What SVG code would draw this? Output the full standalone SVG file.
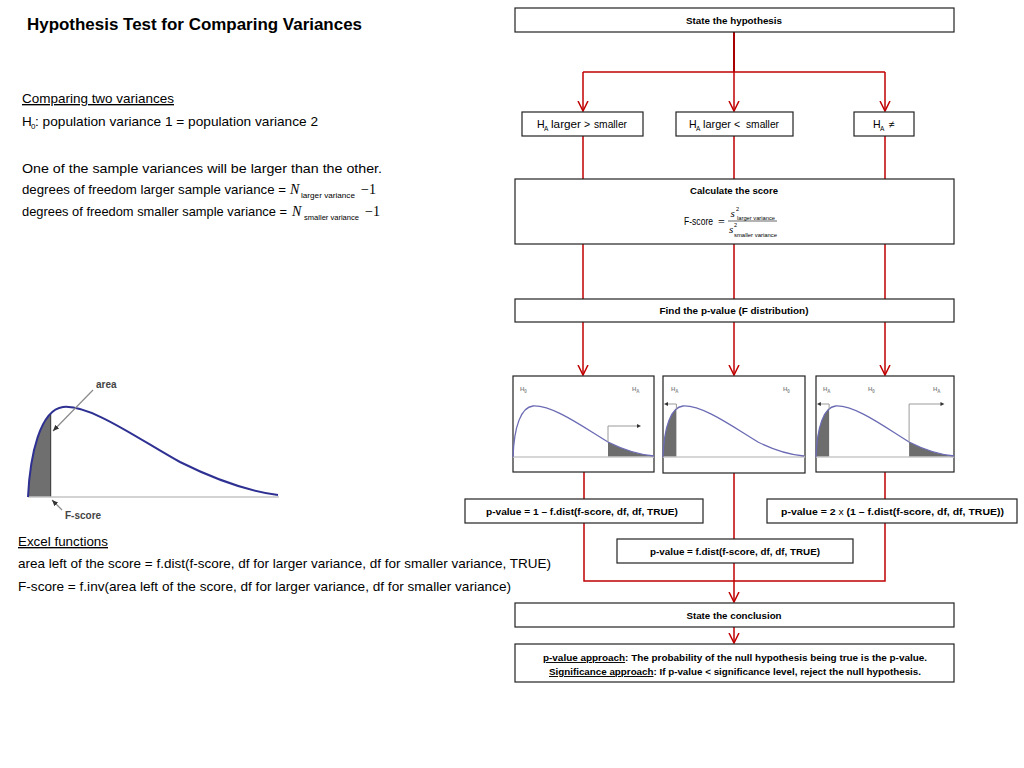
<svg xmlns="http://www.w3.org/2000/svg" xmlns:xlink="http://www.w3.org/1999/xlink" width="1024" height="768" viewBox="0 0 1024 768">
<style>
.bg{fill:#fff}
.box{fill:#fff;stroke:#222;stroke-width:1.2}
.conn{fill:none;stroke:#c00000;stroke-width:1.5}
.stem{fill:none;stroke:#a80000;stroke-width:2}
.b9{font-family:"Liberation Sans",Arial,sans-serif;font-weight:bold;font-size:9.5px;fill:#000}
.r11{font-family:"Liberation Sans",Arial,sans-serif;font-size:10.5px;fill:#000}
.t13{font-family:"Liberation Sans",Arial,sans-serif;font-size:13.5px;fill:#000}
.sub{font-family:"Liberation Sans",Arial,sans-serif;fill:#000}
.math{font-family:"Liberation Serif","Times New Roman",serif;fill:#000}
.lbl{font-family:"Liberation Sans",Arial,sans-serif;font-weight:bold;font-size:6px;fill:#8a8a8a}
.shade{fill:#6d6d6d}
.axis{stroke:#c8c8c8;stroke-width:1.5}
.scurve{fill:none;stroke:#6b6bb5;stroke-width:1.3}
.brk{fill:none;stroke:#9a9a9a;stroke-width:1}
.tip{fill:#333}
.ul{text-decoration:underline}
</style>
<defs>
<marker id="chev" markerUnits="userSpaceOnUse" viewBox="0 0 12 12" markerWidth="12" markerHeight="12" refX="10" refY="6" orient="auto">
<path d="M0,1 L10,6 L0,11" fill="none" stroke="#c00000" stroke-width="1.5"/>
</marker>
<marker id="garrow" markerUnits="userSpaceOnUse" viewBox="0 0 8 8" markerWidth="7" markerHeight="7" refX="7" refY="4" orient="auto">
<path d="M0,1 L7,4 L0,7 Z" fill="#333"/>
</marker>
<path id="fcurve" class="scurve" d="M0,0 C1,-30 8,-50 20,-51 C40,-52 70,-30 95,-15 C115,-5 130,-2 141,-1"/>
</defs>
<rect class="bg" x="0" y="0" width="1024" height="768"/>

<g id="title">
<text x="27" y="30" font-family="Liberation Sans, Arial, sans-serif" font-weight="bold" font-size="17" textLength="335" lengthAdjust="spacingAndGlyphs">Hypothesis Test for Comparing Variances</text>
</g>
<g id="intro-text">
<text class="t13" x="22" y="103" textLength="152" lengthAdjust="spacingAndGlyphs" text-decoration="underline">Comparing two variances</text>
<text class="t13" x="22" y="126">H</text>
<text class="sub" x="31" y="129" font-size="8">0</text>
<text class="t13" x="35" y="126" textLength="283" lengthAdjust="spacingAndGlyphs">: population variance 1 = population variance 2</text>
<text class="t13" x="22" y="173" textLength="360" lengthAdjust="spacingAndGlyphs">One of the sample variances will be larger than the other.</text>
<text class="t13" x="22" y="194" textLength="264" lengthAdjust="spacingAndGlyphs">degrees of freedom larger sample variance =</text>
<text class="math" x="290" y="194" font-size="14" font-style="italic">N</text>
<text class="sub" x="301" y="197.5" font-size="8" textLength="54" lengthAdjust="spacingAndGlyphs">larger variance</text>
<text class="math" x="361" y="194" font-size="14" textLength="15" lengthAdjust="spacingAndGlyphs">−1</text>
<text class="t13" x="22" y="216" font-size="12.6" style="font-size:12.6px" textLength="265" lengthAdjust="spacingAndGlyphs">degrees of freedom smaller sample variance =</text>
<text class="math" x="292" y="216" font-size="14" font-style="italic">N</text>
<text class="sub" x="304" y="219.5" font-size="8" textLength="55" lengthAdjust="spacingAndGlyphs">smaller variance</text>
<text class="math" x="365" y="216" font-size="14" textLength="15" lengthAdjust="spacingAndGlyphs">−1</text>
</g>

<g id="f-distribution-chart">
<path d="M28,497 C29.6,463.4 36.3,427.9 50.7,413.5 L50.7,497 Z" fill="#6f6f6f"/>
<line x1="50.7" y1="413" x2="50.7" y2="497" stroke="#333" stroke-width="1"/>
<line x1="28" y1="497" x2="279" y2="497" stroke="#c4c4c4" stroke-width="1.5"/>
<path d="M28,497 C30,455 40,410 63,407 C90,404 140,440 180,462 C220,482 255,492 278,495" fill="none" stroke="#2e3192" stroke-width="2"/>
<line x1="93" y1="390" x2="53" y2="431" stroke="#8a8a8a" stroke-width="1.2" marker-end="url(#garrow)"/>
<text x="96" y="388" font-family="Liberation Sans, Arial, sans-serif" font-weight="bold" font-size="10" fill="#444">area</text>
<line x1="62" y1="510" x2="52" y2="500" stroke="#8a8a8a" stroke-width="1.2" marker-end="url(#garrow)"/>
<text x="65" y="519" font-family="Liberation Sans, Arial, sans-serif" font-weight="bold" font-size="10" fill="#444">F-score</text>
</g>

<g id="excel-text">
<text class="t13" x="18" y="546" textLength="90" lengthAdjust="spacingAndGlyphs" text-decoration="underline">Excel functions</text>
<text class="t13" x="18" y="568" textLength="533" lengthAdjust="spacingAndGlyphs">area left of the score = f.dist(f-score, df for larger variance, df for smaller variance, TRUE)</text>
<text class="t13" x="18" y="591" textLength="493" lengthAdjust="spacingAndGlyphs">F-score = f.inv(area left of the score, df for larger variance, df for smaller variance)</text>
</g>

<g id="connectors">
<path class="stem" d="M734,32 V72"/>
<path class="conn" d="M583,72 H885"/>
<path class="conn" d="M583,72 V111" marker-end="url(#chev)"/>
<path class="conn" d="M734,72 V111" marker-end="url(#chev)"/>
<path class="conn" d="M885,72 V111" marker-end="url(#chev)"/>
<path class="conn" d="M583,136 V179 M734,136 V179 M885,136 V179"/>
<path class="conn" d="M583,244 V299 M734,244 V299 M885,244 V299"/>
<path class="conn" d="M583,322 V375" marker-end="url(#chev)"/>
<path class="conn" d="M734,322 V375" marker-end="url(#chev)"/>
<path class="conn" d="M885,322 V375" marker-end="url(#chev)"/>
<path class="conn" d="M584,472 V499 M885,472 V499 M734,473 V539"/>
<path class="conn" d="M584,523 V581 H885 V523"/>
<path class="conn" d="M734,563 V602" marker-end="url(#chev)"/>
<path class="conn" d="M734,627 V643" marker-end="url(#chev)"/>
</g>

<g id="state-hypothesis">
<rect class="box" x="515" y="8" width="439" height="24"/>
<text class="b9" x="734" y="23.5" text-anchor="middle" textLength="96" lengthAdjust="spacingAndGlyphs">State the hypothesis</text>
</g>

<g id="ha-greater">
<rect class="box" x="522" y="112" width="121" height="24"/>
<text class="r11" x="537" y="128">H</text>
<text class="sub" x="544" y="130.5" font-size="6.5">A</text>
<text class="r11" x="551" y="128" textLength="30" lengthAdjust="spacingAndGlyphs">larger</text>
<text class="r11" x="584" y="128">&gt;</text>
<text class="r11" x="594" y="128" textLength="33" lengthAdjust="spacingAndGlyphs">smaller</text>
</g>

<g id="ha-less">
<rect class="box" x="676" y="112" width="117" height="24"/>
<text class="r11" x="689" y="128">H</text>
<text class="sub" x="696" y="130.5" font-size="6.5">A</text>
<text class="r11" x="703" y="128" textLength="28" lengthAdjust="spacingAndGlyphs">larger</text>
<text class="r11" x="734" y="128">&lt;</text>
<text class="r11" x="746" y="128" textLength="33" lengthAdjust="spacingAndGlyphs">smaller</text>
</g>

<g id="ha-not-equal">
<rect class="box" x="854" y="112" width="60" height="24"/>
<text class="r11" x="873" y="128">H</text>
<text class="sub" x="880" y="130.5" font-size="6.5">A</text>
<text class="r11" x="889" y="128">≠</text>
</g>

<g id="calculate-score">
<rect class="box" x="515" y="179" width="439" height="65"/>
<text class="b9" x="734" y="194" text-anchor="middle" textLength="88" lengthAdjust="spacingAndGlyphs">Calculate the score</text>
<text class="sub" x="684" y="225" font-size="10.5" textLength="29" lengthAdjust="spacingAndGlyphs">F-score</text>
<text class="math" x="718" y="225.5" font-size="12">=</text>
<line x1="728" y1="221" x2="777" y2="221" stroke="#000" stroke-width="0.6"/>
<text class="math" x="730.5" y="217" font-size="11" font-style="italic">s</text>
<text class="sub" x="736" y="210.5" font-size="5.5">2</text>
<text class="sub" x="737" y="219.5" font-size="5.5" textLength="38" lengthAdjust="spacingAndGlyphs">larger variance</text>
<text class="math" x="729" y="233" font-size="11" font-style="italic">s</text>
<text class="sub" x="734" y="226.5" font-size="5.5">2</text>
<text class="sub" x="734" y="237" font-size="5.5" textLength="43" lengthAdjust="spacingAndGlyphs">smaller variance</text>
</g>

<g id="find-p-value">
<rect class="box" x="515" y="299" width="439" height="23"/>
<text class="b9" x="734" y="314" text-anchor="middle" textLength="149" lengthAdjust="spacingAndGlyphs">Find the p-value (F distribution)</text>
</g>

<g id="chart-right-tail">
<rect class="box" x="513" y="376" width="141" height="96"/>
<g transform="translate(513,457)">
<path class="shade" d="M95,0 L95,-15 C115,-5 130,-2 141,-1 L141,0 Z"/>
<line class="axis" x1="0" y1="0" x2="141" y2="0"/>
<use xlink:href="#fcurve"/>
<path class="brk" d="M95,-15 V-31 H125"/>
<path class="tip" d="M124,-33 L128,-31 L124,-29 Z"/>
</g>
<text class="lbl" x="520" y="391">H<tspan font-size="4.5" dy="1.5">0</tspan></text>
<text class="lbl" x="632" y="391">H<tspan font-size="4.5" dy="1.5">A</tspan></text>
</g>

<g id="chart-left-tail">
<rect class="box" x="663" y="376" width="142" height="97"/>
<g transform="translate(663,457)">
<path class="shade" d="M0,0 C0.8,-24 5.44,-41.6 13.4,-48.2 L13.4,0 Z"/>
<line class="axis" x1="0" y1="0" x2="142" y2="0"/>
<use xlink:href="#fcurve"/>
<path class="brk" d="M13.4,-48 V-53 H4"/>
<path class="tip" d="M5,-55 L1,-53 L5,-51 Z"/>
</g>
<text class="lbl" x="671" y="391">H<tspan font-size="4.5" dy="1.5">A</tspan></text>
<text class="lbl" x="783" y="391">H<tspan font-size="4.5" dy="1.5">0</tspan></text>
</g>

<g id="chart-two-tail">
<rect class="box" x="816" y="376" width="138" height="96"/>
<g transform="translate(816,457) scale(0.98,1)">
<path class="shade" d="M0,0 C0.8,-24 5.44,-41.6 13.4,-48.2 L13.4,0 Z"/>
<path class="shade" d="M95,0 L95,-15 C115,-5 130,-2 141,-1 L141,0 Z"/>
<line class="axis" x1="0" y1="0" x2="141" y2="0"/>
<use xlink:href="#fcurve"/>
<path class="brk" d="M13.4,-48 V-53 H4"/>
<path class="tip" d="M5,-55 L1,-53 L5,-51 Z"/>
<path class="brk" d="M95,-15 V-53 H128"/>
<path class="tip" d="M127,-55 L131,-53 L127,-51 Z"/>
</g>
<text class="lbl" x="823" y="391">H<tspan font-size="4.5" dy="1.5">A</tspan></text>
<text class="lbl" x="868" y="391">H<tspan font-size="4.5" dy="1.5">0</tspan></text>
<text class="lbl" x="933" y="391">H<tspan font-size="4.5" dy="1.5">A</tspan></text>
</g>

<g id="p-value-right">
<rect class="box" x="465" y="499" width="238" height="24"/>
<text class="b9" x="582" y="514.5" text-anchor="middle" textLength="192" lengthAdjust="spacingAndGlyphs">p-value = 1 – f.dist(f-score, df, df, TRUE)</text>
</g>

<g id="p-value-left">
<rect class="box" x="617" y="539" width="236" height="24"/>
<text class="b9" x="735" y="554.5" text-anchor="middle" textLength="170" lengthAdjust="spacingAndGlyphs">p-value = f.dist(f-score, df, df, TRUE)</text>
</g>

<g id="p-value-two">
<rect class="box" x="767" y="499" width="250" height="24"/>
<text class="b9" x="781" y="514.5" textLength="223" lengthAdjust="spacingAndGlyphs">p-value = 2 <tspan font-weight="normal">x</tspan> (1 – f.dist(f-score, df, df, TRUE))</text>
</g>

<g id="state-conclusion">
<rect class="box" x="515" y="603" width="439" height="24"/>
<text class="b9" x="734" y="618.5" text-anchor="middle" textLength="95" lengthAdjust="spacingAndGlyphs">State the conclusion</text>
</g>

<g id="conclusion-detail">
<rect class="box" x="515" y="644" width="439" height="38"/>
<text class="b9" x="543" y="661" textLength="384" lengthAdjust="spacingAndGlyphs"><tspan class="ul">p-value approach</tspan>: The probability of the null hypothesis being true is the p-value.</text>
<text class="b9" x="549" y="675" textLength="372" lengthAdjust="spacingAndGlyphs"><tspan class="ul">Significance approach</tspan>: If p-value &lt; significance level, reject the null hypothesis.</text>
</g>
</svg>
